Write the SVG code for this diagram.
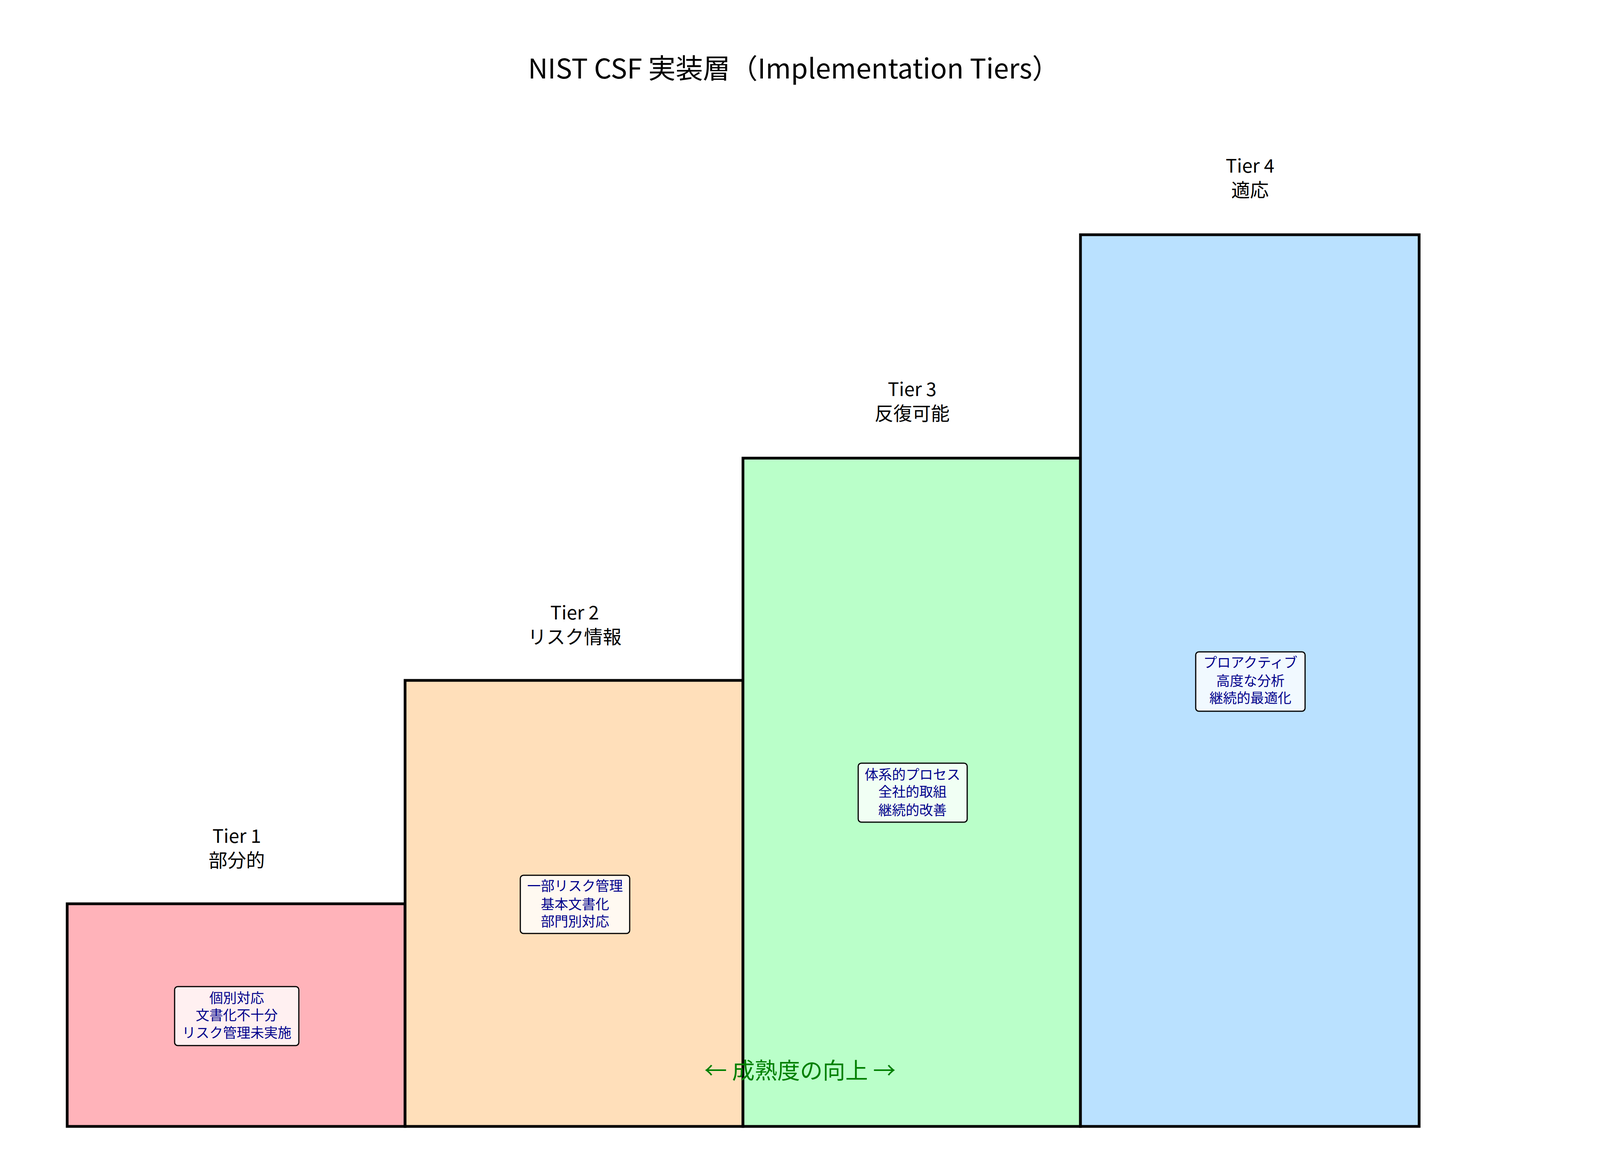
<svg xmlns="http://www.w3.org/2000/svg" width="4170" height="2970" viewBox="0 0 4170 2970">
<style>
text{font-family:"Noto Sans CJK JP","Noto Sans",sans-serif;text-anchor:middle;dominant-baseline:central}
.bar{stroke:#000;stroke-width:7}
.box{fill:#fff;fill-opacity:0.8;stroke:#000;stroke-width:3}
.lbl{font-size:48px;fill:#000}
.in{font-size:35px;fill:#00008B}
</style>
<rect width="4170" height="2970" fill="#fff"/>
<text x="2032" y="170" font-size="70">NIST CSF 実装層（Implementation Tiers）</text>
<g id="tier1">
<rect class="bar" x="172" y="2314" width="865" height="570" fill="#FFB3BA"/>
<text class="lbl" x="606" y="2137">Tier 1</text><text class="lbl" x="606" y="2199">部分的</text>
<rect class="box" x="447" y="2526" width="318" height="151" rx="8"/>
<text class="in" x="606" y="2552">個別対応</text><text class="in" x="606" y="2596">文書化不十分</text><text class="in" x="606" y="2641">リスク管理未実施</text>
</g>
<g id="tier2">
<rect class="bar" x="1037" y="1742" width="865" height="1142" fill="#FFDFBA"/>
<text class="lbl" x="1471" y="1565">Tier 2</text><text class="lbl" x="1471" y="1627">リスク情報</text>
<rect class="box" x="1332" y="2241" width="280" height="149" rx="8"/>
<text class="in" x="1472" y="2265">一部リスク管理</text><text class="in" x="1472" y="2312">基本文書化</text><text class="in" x="1472" y="2356">部門別対応</text>
</g>
<g id="tier3">
<rect class="bar" x="1902" y="1173" width="864" height="1711" fill="#BAFFC9"/>
<text class="lbl" x="2335" y="993">Tier 3</text><text class="lbl" x="2335" y="1055">反復可能</text>
<rect class="box" x="2197" y="1954" width="279" height="151" rx="8"/>
<text class="in" x="2336" y="1980">体系的プロセス</text><text class="in" x="2336" y="2024">全社的取組</text><text class="in" x="2336" y="2071">継続的改善</text>
</g>
<g id="tier4">
<rect class="bar" x="2766" y="601" width="867" height="2283" fill="#BAE1FF"/>
<text class="lbl" x="3200" y="421">Tier 4</text><text class="lbl" x="3200" y="483">適応</text>
<rect class="box" x="3061" y="1669" width="280" height="152" rx="8"/>
<text class="in" x="3201" y="1693">プロアクティブ</text><text class="in" x="3201" y="1740">高度な分析</text><text class="in" x="3201" y="1784">継続的最適化</text>
</g>
<text x="2048" y="2737" font-size="58" fill="#008000">← 成熟度の向上 →</text>
</svg>
